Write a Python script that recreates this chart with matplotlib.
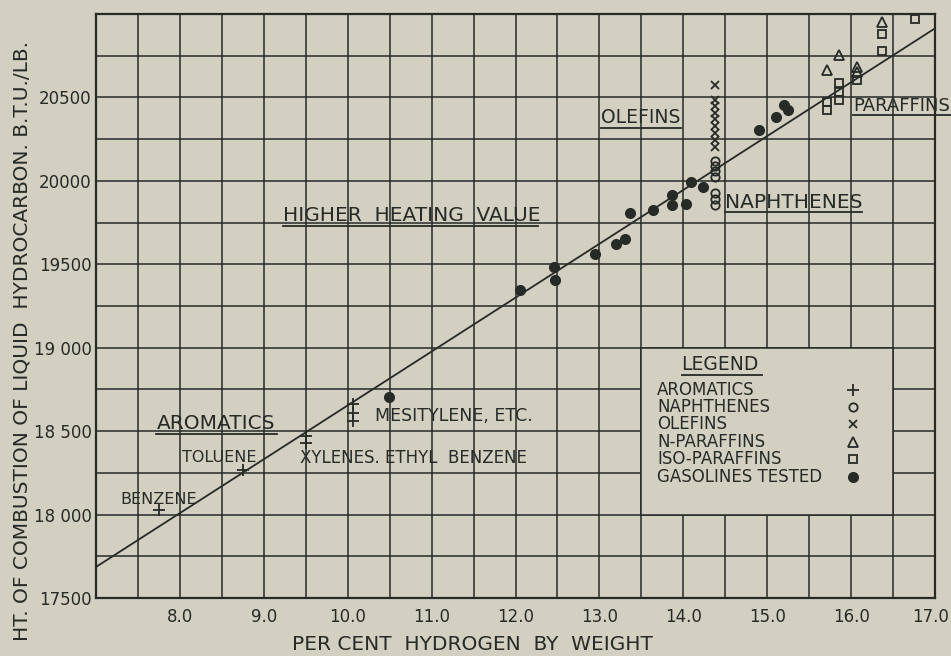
import numpy as np
import matplotlib
matplotlib.use('Agg')
import matplotlib.pyplot as plt
from matplotlib.patches import Rectangle
from matplotlib.transforms import ScaledTranslation

# per cent hydrogen / heat of combustion (BTU/lb)
arom_x = [7.75, 8.75, 9.5, 9.5, 10.06, 10.06, 10.06]
arom_y = [18030, 18270, 18470, 18430, 18660, 18610, 18560]

naph_x = [14.38] * 7
naph_y = [20120, 20090, 20060, 20024, 19928, 19892, 19855]

olef_x = [14.38] * 9
olef_y = [20576, 20486, 20450, 20408, 20372, 20330, 20288, 20246, 20204]

npar_x = [15.71, 15.86, 16.07, 16.07, 16.37]
npar_y = [20665, 20752, 20680, 20650, 20950]

iso_x = [15.71, 15.71, 15.86, 15.86, 15.86, 16.07, 16.37, 16.37, 16.76]
iso_y = [20473, 20426, 20587, 20533, 20485, 20605, 20880, 20779, 20968]

gas_x = [10.49, 12.05, 12.46, 12.47, 12.95, 13.20, 13.30, 13.36, 13.64, 13.87,
         13.87, 14.03, 14.09, 14.23, 14.90, 15.10, 15.20, 15.25]
gas_y = [18705, 19347, 19485, 19407, 19562, 19622, 19652, 19808, 19826, 19916,
         19856, 19862, 19994, 19964, 20306, 20384, 20456, 20426]

# higher heating value line
line_x = [7.0, 17.0]
line_y = [17686, 20914]

xticks = [8, 9, 10, 11, 12, 13, 14, 15, 16, 17]
xlabels = ['8.0', '9.0', '10.0', '11.0', '12.0', '13.0', '14.0', '15.0', '16.0', '17.0']
yticks = [17500, 18000, 18500, 19000, 19500, 20000, 20500]
ylabels = ['17500', '18 000', '18 500', '19 000', '19500', '20000', '20500']

legend_names = ['AROMATICS', 'NAPHTHENES', 'OLEFINS', 'N-PARAFFINS', 'ISO-PARAFFINS', 'GASOLINES TESTED']

bg = '#d3cfc1'
ink = '#262b28'

plt.rcParams['font.family'] = 'DejaVu Sans'

fig = plt.figure(figsize=(9.51, 6.56), dpi=100)
fig.patch.set_facecolor(bg)
ax = fig.add_axes([96/951, 58/656, 839/951, 584/656])
ax.set_facecolor(bg)

ax.set_xlim(7, 17)
ax.set_ylim(17500, 21000)
ax.set_xticks(xticks)
ax.set_xticklabels(xlabels)
ax.set_xticks(np.arange(7.5, 17, 1.0), minor=True)
ax.set_yticks(yticks)
ax.set_yticklabels(ylabels)
ax.set_yticks([17750, 18250, 18750, 19250, 19750, 20250, 20750], minor=True)
ax.grid(True, which='both', color=ink, linewidth=1.1, zorder=1)
ax.set_axisbelow(True)
ax.tick_params(which='both', length=0, labelsize=12, colors=ink)
ax.tick_params(axis='x', pad=7)
ax.tick_params(axis='y', pad=3)
for s in ax.spines.values():
    s.set_color(ink)
    s.set_linewidth(1.6)
last = ax.get_xticklabels()[-1]
last.set_transform(last.get_transform() + ScaledTranslation(-4/100, 0, fig.dpi_scale_trans))

# legend block hides the grid
ax.add_patch(Rectangle((13.5, 18000), 3.0, 1000, facecolor=bg, edgecolor=ink,
                       linewidth=1.1, zorder=1.5))

ax.plot(line_x, line_y, color=ink, linewidth=1.3, zorder=3)

mk = dict(linestyle='none', color=ink, zorder=4)
ax.plot(arom_x, arom_y, marker='+', markersize=9, markeredgewidth=1.3, **mk)
ax.plot(naph_x, naph_y, marker='o', markersize=6, markerfacecolor='none', markeredgewidth=1.3, **mk)
ax.plot(olef_x, olef_y, marker='x', markersize=6, markeredgewidth=1.3, **mk)
ax.plot(npar_x, npar_y, marker='^', markersize=6.5, markerfacecolor='none', markeredgewidth=1.3, **mk)
ax.plot(iso_x, iso_y, marker='s', markersize=6, markerfacecolor='none', markeredgewidth=1.3, **mk)
ax.plot(gas_x, gas_y, marker='o', markersize=8, markerfacecolor=ink, markeredgewidth=0, **mk)

def label(x, y, txt, size=11, ul=None):
    ax.text(x, y, txt, fontsize=size, color=ink, ha='left', va='center', zorder=5, clip_on=False)
    if ul is not None:
        ax.plot([x, ul[0]], [ul[1], ul[1]], color=ink, linewidth=1.3, zorder=5, clip_on=False)

label(9.23, 19795, 'HIGHER  HEATING  VALUE', 14.5, (12.27, 19730))
label(13.02, 20380, 'OLEFINS', 13.5, (13.97, 20318))
label(16.02, 20446, 'PARAFFINS', 13, (17.19, 20394))
label(14.50, 19870, 'NAPHTHENES', 14.5, (16.13, 19816))
label(7.72, 18545, 'AROMATICS', 14.5, (9.16, 18483))
label(8.03, 18345, 'TOLUENE', 11.5)
label(7.29, 18090, 'BENZENE', 11.5)
label(9.43, 18340, 'XYLENES. ETHYL  BENZENE', 12)
label(10.33, 18592, 'MESITYLENE, ETC.', 12.5)

# legend
label(13.98, 18900, 'LEGEND', 13.5, (14.94, 18835))
leg_markers = [dict(marker='+', markersize=9, markeredgewidth=1.3),
               dict(marker='o', markersize=6, markerfacecolor='none', markeredgewidth=1.3),
               dict(marker='x', markersize=6, markeredgewidth=1.3),
               dict(marker='^', markersize=6.5, markerfacecolor='none', markeredgewidth=1.3),
               dict(marker='s', markersize=6, markerfacecolor='none', markeredgewidth=1.3),
               dict(marker='o', markersize=8, markerfacecolor=ink, markeredgewidth=0)]
for i, name in enumerate(legend_names):
    yy = 18748 - i * 104
    ax.text(13.69, yy, name, fontsize=12, color=ink, ha='left', va='center', zorder=5)
    ax.plot([16.02], [yy], linestyle='none', color=ink, zorder=5, **leg_markers[i])

fig.text(22/951, 1 - 341/656, 'HT. OF COMBUSTION OF LIQUID  HYDROCARBON. B.T.U./LB.',
         rotation=90, ha='center', va='center', fontsize=14.5, color=ink)
fig.text(472/951, 1 - 645/656, 'PER CENT  HYDROGEN  BY  WEIGHT',
         ha='center', va='center', fontsize=14.5, color=ink)

fig.savefig('out.png', dpi=100, facecolor=bg)
